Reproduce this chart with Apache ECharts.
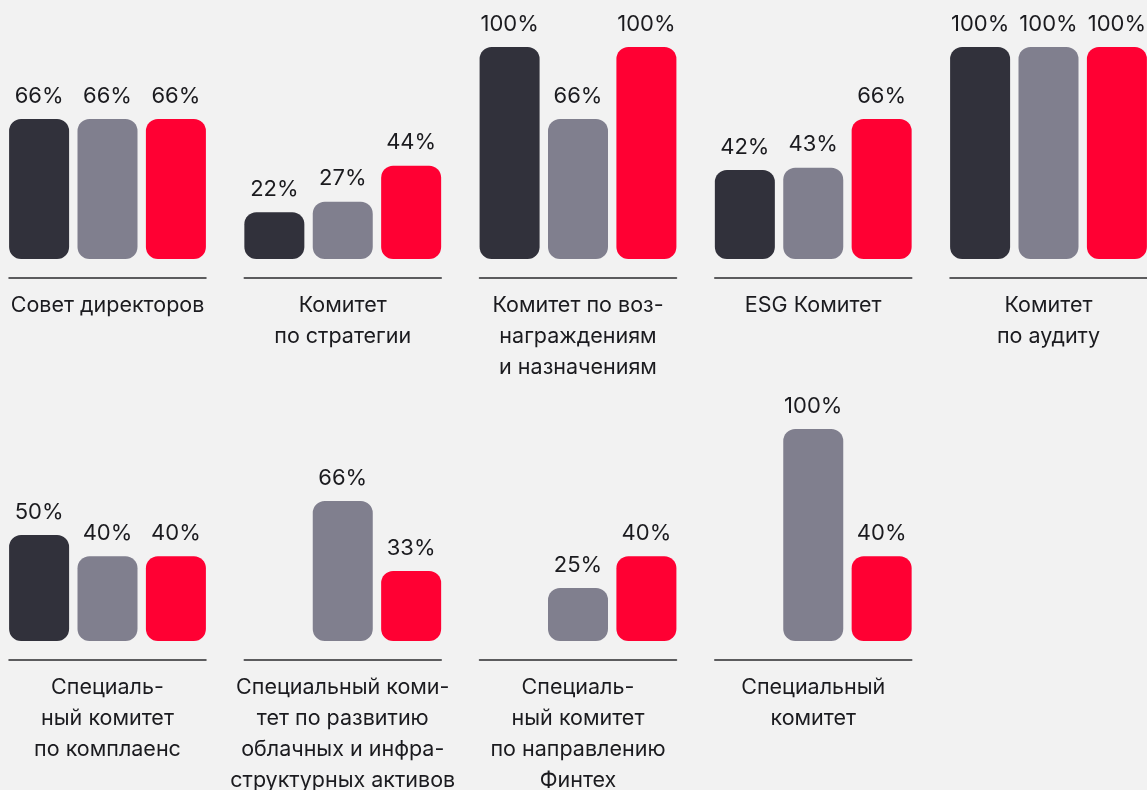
<!DOCTYPE html>
<html><head><meta charset="utf-8">
<script src="https://cdn.jsdelivr.net/npm/echarts@6/dist/echarts.min.js"></script>
<style>html,body{margin:0;padding:0;background:#f2f2f2}#c{width:1147px;height:790px}</style>
</head><body><div id="c"></div><script>
const categories = [
  'Совет директоров',
  'Комитет\nпо стратегии',
  'Комитет по воз-\nнаграждениям\nи назначениям',
  'ESG Комитет',
  'Комитет\nпо аудиту',
  'Специаль-\nный комитет\nпо комплаенс',
  'Специальный коми-\nтет по развитию\nоблачных и инфра-\nструктурных активов',
  'Специаль-\nный комитет\nпо направлению\nФинтех',
  'Специальный\nкомитет'
];
const seriesNames = ['Серия 1', 'Серия 2', 'Серия 3'];
const values1 = [66, 22, 100, 42, 100, 50, null, null, null];
const values2 = [66, 27, 66, 43, 100, 40, 66, 25, 100];
const values3 = [66, 44, 100, 66, 100, 40, 33, 40, 40];
const seriesValues = [values1, values2, values3];
const colors = ['#31313b', '#807f8e', '#ff0033'];

const FONT = 'Inter';
const panelLeft0 = 9, panelPitch = 235.25, panelWidth = 197;
const rowTops = [47, 429], rowHeight = 212, perRow = 5;

const grids = [], xAxes = [], yAxes = [], series = [];
categories.forEach((cat, i) => {
  const row = Math.floor(i / perRow), col = i % perRow;
  grids.push({left: panelLeft0 + col * panelPitch, top: rowTops[row], width: panelWidth, height: rowHeight,
    containLabel: false, outerBoundsMode: 'none'});
  xAxes.push({
    gridIndex: i, type: 'category', data: [cat], offset: 19,
    axisLine: {show: true, onZero: false, lineStyle: {color: '#2b2b2e', width: 1.5}},
    axisTick: {show: false},
    axisLabel: {interval: 0, margin: 12.5, fontFamily: FONT, fontSize: 21.5, lineHeight: 31, color: '#1b1b1f', align: 'center', hideOverlap: false}
  });
  yAxes.push({gridIndex: i, type: 'value', min: 0, max: 100, show: false, splitLine: {show: false}});
  seriesValues.forEach((vals, s) => {
    series.push({
      type: 'bar', name: seriesNames[s], xAxisIndex: i, yAxisIndex: i,
      data: [vals[i]], barWidth: 60, barGap: '14%',
      itemStyle: {color: colors[s], borderRadius: 12},
      label: {show: true, position: 'top', distance: 12, formatter: '{c}%', fontFamily: FONT, fontSize: 22, color: '#1b1b1f'}
    });
  });
});

const chart = echarts.init(document.getElementById('c'), null, {renderer: 'canvas'});
chart.setOption({
  backgroundColor: '#f2f2f2',
  animation: false,
  grid: grids, xAxis: xAxes, yAxis: yAxes, series: series
});
</script></body></html>
